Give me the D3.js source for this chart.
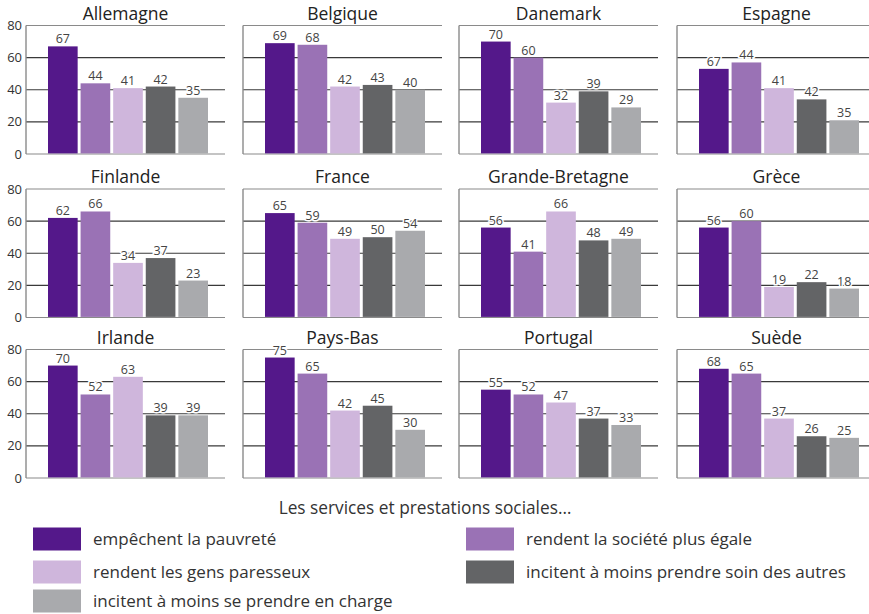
<!DOCTYPE html>
<html><head><meta charset="utf-8">
<script src="https://cdn.jsdelivr.net/npm/d3@7"></script>
<style>body{margin:0;background:#fff}svg{display:block}</style>
</head><body>
<script>
const countries = ["Allemagne","Belgique","Danemark","Espagne","Finlande","France","Grande-Bretagne","Grèce","Irlande","Pays-Bas","Portugal","Suède"];
const seriesNames = ["empêchent la pauvreté","rendent la société plus égale","rendent les gens paresseux","incitent à moins prendre soin des autres","incitent à moins se prendre en charge"];
// bar heights as drawn
const barValues = [
  [67,44,41,42,35],
  [69,68,42,43,40],
  [70,60,32,39,29],
  [53,57,41,34,21],
  [62,66,34,37,23],
  [65,59,49,50,54],
  [56,41,66,48,49],
  [56,60,19,22,18],
  [70,52,63,39,39],
  [75,65,42,45,30],
  [55,52,47,37,33],
  [68,65,37,26,25]
];
// value labels as printed
const labelValues = [
  [67,44,41,42,35],
  [69,68,42,43,40],
  [70,60,32,39,29],
  [67,44,41,42,35],
  [62,66,34,37,23],
  [65,59,49,50,54],
  [56,41,66,48,49],
  [56,60,19,22,18],
  [70,52,63,39,39],
  [75,65,42,45,30],
  [55,52,47,37,33],
  [68,65,37,26,25]
];
const yTicks = [0,20,40,60,80];
const legendTitle = "Les services et prestations sociales…";
const colors = ["#54188a","#9a72b5","#cfb6dc","#636466","#a9aaad"];

const W = 869, H = 614;
const svg = d3.select("body").append("svg").attr("width", W).attr("height", H);
const font = "'Open Sans', sans-serif";

const panelLefts = [26, 243, 459, 677];
const panelTops = [25.5, 189, 349.5];
const pw = 199, ph = 128.5;

const y = d3.scaleLinear().domain([0,80]).range([ph,0]);
const x = d3.scaleBand().domain(d3.range(5)).range([22,182]).paddingInner(0.09).paddingOuter(0);

countries.forEach((c,i)=>{
  const col = i%4, row = Math.floor(i/4);
  const g = svg.append("g").attr("transform",`translate(${panelLefts[col]},${panelTops[row]})`);
  g.selectAll("line.grid").data(yTicks).join("line")
    .attr("x1",0).attr("x2",pw).attr("y1",d=>y(d)).attr("y2",d=>y(d))
    .attr("stroke", d=> (d===0||d===80)?"#8a8a8a":"#3a3a3a").attr("stroke-width",1.2);
  g.append("line").attr("x1",0).attr("x2",0).attr("y1",0).attr("y2",ph)
    .attr("stroke","#8a8a8a").attr("stroke-width",1.4);
  g.selectAll("rect").data(barValues[i]).join("rect")
    .attr("x",(d,j)=>x(j)).attr("width",x.bandwidth())
    .attr("y",d=>y(d)).attr("height",d=>ph-y(d)-0.6)
    .attr("fill",(d,j)=>colors[j]);
  g.selectAll("text.val").data(barValues[i]).join("text")
    .attr("class","val")
    .attr("x",(d,j)=>x(j)+x.bandwidth()/2).attr("y",d=>y(d)-3)
    .attr("text-anchor","middle").attr("font-family",font).attr("font-size",12.5)
    .attr("fill","#444").attr("stroke","#fff").attr("stroke-width",3).attr("paint-order","stroke")
    .text((d,j)=>labelValues[i][j]);
  g.append("text").attr("x",pw/2).attr("y",-6).attr("text-anchor","middle")
    .attr("font-family",font).attr("font-size",17.5).attr("fill","#222").text(c);
  if(col===0){
    g.selectAll("text.tick").data(yTicks).join("text").attr("class","tick")
      .attr("x",-4).attr("y",d=>y(d)).attr("dy","0.35em").attr("text-anchor","end")
      .attr("font-family",font).attr("font-size",13).attr("fill","#333").text(d=>d);
  }
});

svg.append("text").attr("x",425).attr("y",508).attr("dy","0.35em").attr("text-anchor","middle")
  .attr("font-family",font).attr("font-size",17.3).attr("fill","#333").text(legendTitle);
const legPos = [[33,539],[466,539],[33,572],[466,572],[33,601]];
seriesNames.forEach((s,k)=>{
  const [lx,ly] = legPos[k];
  svg.append("rect").attr("x",lx).attr("y",ly-11.5).attr("width",48).attr("height",23).attr("fill",colors[k]);
  svg.append("text").attr("x",lx+60).attr("y",ly).attr("dy","0.35em")
    .attr("font-family",font).attr("font-size",17).attr("fill","#333").text(s);
});
</script>
</body></html>
